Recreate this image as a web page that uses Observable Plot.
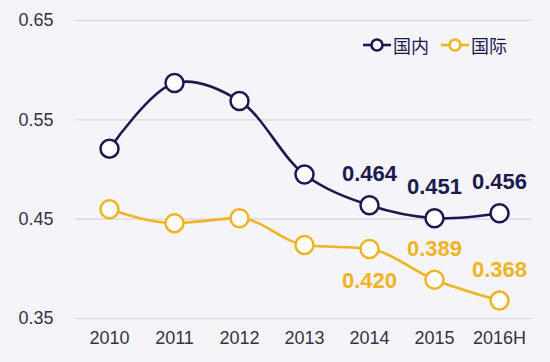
<!DOCTYPE html>
<html><head><meta charset="utf-8">
<script src="https://cdn.jsdelivr.net/npm/d3@7"></script>
<script src="https://cdn.jsdelivr.net/npm/@observablehq/plot@0.6"></script>
<style>
html,body{margin:0;padding:0;background:#f4f4f9;}
#wrap{position:relative;width:550px;height:362px;}
#legend{position:absolute;left:363px;top:32px;font-family:"Noto Sans CJK SC",sans-serif;font-size:18px;display:flex;align-items:center;gap:0;}
#legend span{display:flex;align-items:center;margin-right:6px;}
</style></head>
<body><div id="wrap"><div id="legend"></div></div>
<script>
const years = ["2010","2011","2012","2013","2014","2015","2016H"];
const domestic = [0.521, 0.587, 0.569, 0.495, 0.464, 0.451, 0.456];
const international = [0.460, 0.446, 0.451, 0.424, 0.420, 0.389, 0.368];
const domesticLabels = [null, null, null, null, "0.464", "0.451", "0.456"];
const internationalLabels = [null, null, null, null, "0.420", "0.389", "0.368"];
const internationalLabelSide = [0, 0, 0, 0, 1, -1, -1];
const yTicks = [0.35, 0.45, 0.55, 0.65];
const seriesNames = ["国内", "国际"];
const navy = "#1b1a4f", gold = "#f0b323";

const dom = years.map((y,i)=>({year:y, v:domestic[i], label:domesticLabels[i]}));
const intl = years.map((y,i)=>({year:y, v:international[i], label:internationalLabels[i], side:internationalLabelSide[i]}));

const font = "Liberation Sans, Arial, sans-serif";
const chart = Plot.plot({
  width: 550, height: 362,
  marginLeft: 75, marginRight: 18, marginTop: 20, marginBottom: 44,
  style: {background: "#f4f4f9", fontFamily: font, fontSize: "18px", color: "#333344"},
  x: {type: "point", domain: years, padding: 0.5, label: null, tickSize: 0, tickPadding: 13},
  y: {domain: [0.35, 0.65], ticks: yTicks, tickFormat: d3.format(".2f"), label: null, tickSize: 0, tickPadding: 22},
  marks: [
    Plot.gridY(yTicks, {stroke: "#d6d6de", strokeOpacity: 1, strokeWidth: 1.2}),
    Plot.line(intl, {x: "year", y: "v", stroke: gold, strokeWidth: 2.6, curve: "monotone-x"}),
    Plot.line(dom, {x: "year", y: "v", stroke: navy, strokeWidth: 2.6, curve: "catmull-rom"}),
    Plot.dot(intl, {x: "year", y: "v", r: 9, fill: "white", stroke: gold, strokeWidth: 2.5}),
    Plot.dot(dom, {x: "year", y: "v", r: 9, fill: "white", stroke: navy, strokeWidth: 2.5}),
    Plot.text(dom.filter(d=>d.label), {x: "year", y: "v", text: "label", dy: -31, fill: navy, fontSize: 22, fontWeight: "bold", fontFamily: font}),
    Plot.text(intl.filter(d=>d.label && d.side<0), {x: "year", y: "v", text: "label", dy: -31, fill: gold, fontSize: 22, fontWeight: "bold", fontFamily: font}),
    Plot.text(intl.filter(d=>d.label && d.side>0), {x: "year", y: "v", text: "label", dy: 32, fill: gold, fontSize: 22, fontWeight: "bold", fontFamily: font})
  ]
});
document.getElementById("wrap").prepend(chart);

const legend = document.getElementById("legend");
[[seriesNames[0], navy], [seriesNames[1], gold]].forEach(([name,c])=>{
  const s = document.createElement("span");
  s.innerHTML = `<svg width="28" height="16"><line x1="0" y1="8" x2="28" y2="8" stroke="${c}" stroke-width="2.6"/><circle cx="14" cy="8" r="5.5" fill="white" stroke="${c}" stroke-width="2.6"/></svg><span style="color:${c===navy?navy:'#1b1a4f'};margin-left:2px">${name}</span>`;
  legend.appendChild(s);
});
</script></body></html>
